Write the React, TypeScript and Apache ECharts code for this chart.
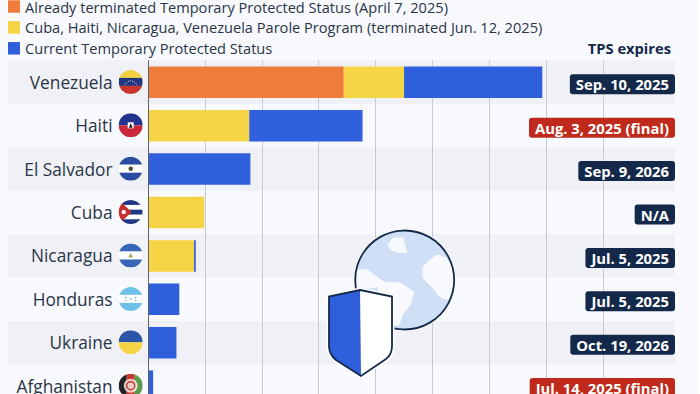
import React, { useEffect, useRef } from "react";
import * as echarts from "echarts";

const categories = ["Venezuela", "Haiti", "El Salvador", "Cuba", "Nicaragua", "Honduras", "Ukraine", "Afghanistan"];
const terminated = [344, 0, 0, 0, 0, 0, 0, 0];
const parole = [106, 178, 0, 99, 81, 0, 0, 0];
const current = [243, 199, 180, 0, 3, 55, 50, 9];
const expiries = ["Sep. 10, 2025", "Aug. 3, 2025 (final)", "Sep. 9, 2026", "N/A", "Jul. 5, 2025", "Jul. 5, 2025", "Oct. 19, 2026", "Jul. 14, 2025 (final)"];
const finalFlags = [false, true, false, false, false, false, false, true];
const stripedRows = [0, 2, 4, 6];
const legendNames = [
  "Already terminated Temporary Protected Status (April 7, 2025)",
  "Cuba, Haiti, Nicaragua, Venezuela Parole Program (terminated Jun. 12, 2025)",
  "Current Temporary Protected Status",
];

const ORANGE = "#ee7c3a";
const YELLOW = "#f5d546";
const BLUE = "#2f5fdb";
const NAVY = "#14294a";
const RED = "#c02a1c";
const TEXT = "#2a3547";
const FONT = '"Open Sans", sans-serif';

function flagSvg(body: string): string {
  const svg = `<svg xmlns="http://www.w3.org/2000/svg" width="48" height="48" viewBox="0 0 24 24"><defs><clipPath id="c"><circle cx="12" cy="12" r="12"/></clipPath></defs><g clip-path="url(#c)">${body}</g></svg>`;
  return "data:image/svg+xml;charset=utf-8," + encodeURIComponent(svg);
}
const stripes = (a: string, b: string, c: string, h1 = 8, h2 = 8) =>
  `<rect width="24" height="${h1}" fill="${a}"/><rect y="${h1}" width="24" height="${h2}" fill="${b}"/><rect y="${h1 + h2}" width="24" height="${24 - h1 - h2}" fill="${c}"/>`;

const flags = [
  flagSvg(stripes("#f5d03f", "#22357f", "#c8352c") + `<path d="M6 14.5 Q12 7.5 18 14.5" fill="none" stroke="#fff" stroke-width="1" stroke-dasharray="1 1.2"/>`),
  flagSvg(stripes("#22348f", "#22348f", "#c9283a", 12, 0) + `<rect x="9" y="9" width="6" height="6" fill="#fff"/><path d="M10 14.5 L12 10 L14 14.5Z" fill="#222"/>`),
  flagSvg(stripes("#2b4ea3", "#ffffff", "#2b4ea3") + `<circle cx="12" cy="12" r="2.2" fill="#4a4a2a"/>`),
  flagSvg(
    `<rect width="24" height="24" fill="#fff"/><rect width="24" height="4.8" fill="#1f3585"/><rect y="9.6" width="24" height="4.8" fill="#1f3585"/><rect y="19.2" width="24" height="4.8" fill="#1f3585"/><path d="M0 0 L13 12 L0 24Z" fill="#c62f2c"/><circle cx="5" cy="12" r="2.2" fill="#fff"/>`
  ),
  flagSvg(stripes("#3766b8", "#ffffff", "#3766b8") + `<path d="M12 9.5 L14.5 14 L9.5 14Z" fill="#a8a860"/>`),
  flagSvg(stripes("#6fc0e8", "#ffffff", "#6fc0e8") + `<circle cx="12" cy="12" r="0.9" fill="#6fc0e8"/><circle cx="7" cy="10.5" r="0.8" fill="#6fc0e8"/><circle cx="17" cy="10.5" r="0.8" fill="#6fc0e8"/><circle cx="7" cy="13.5" r="0.8" fill="#6fc0e8"/><circle cx="17" cy="13.5" r="0.8" fill="#6fc0e8"/>`),
  flagSvg(`<rect width="24" height="12" fill="#2c55a8"/><rect y="12" width="24" height="12" fill="#f5d546"/>`),
  flagSvg(
    `<rect width="8" height="24" fill="#222"/><rect x="8" width="8" height="24" fill="#c53a2f"/><rect x="16" width="8" height="24" fill="#5a9a48"/><circle cx="12" cy="12" r="7" fill="#fff" opacity="0.75"/><circle cx="12" cy="12" r="4" fill="none" stroke="#c53a2f" stroke-width="1.5"/>`
  ),
];

echarts.graphic.registerShape(
  "globeLand",
  echarts.graphic.extendPath(
    "M388 245 L393 238 L403 238 L405 246 L407 253 L398 252 L391 250Z" +
      "M357 270 L368 270 L378 278 L384 282 L380 286 L370 288 L357 288Z" +
      "M378 283 L387 282 L400 283 L414 292 L410 305 L402 315 L399 325 L395 325 L392 305 L378 292Z" +
      "M423 267 L430 260 L437 255 L446 258 L452 268 L453 285 L448 300 L440 297 L432 287 L423 278Z",
    {}
  ) as any
);
echarts.graphic.registerShape(
  "shieldFull",
  echarts.graphic.extendPath(
    "M360 290 L392 296.5 L392 346 C392 352 390 356 386 359 L361 376 L336 360 C331 356 329 352 329 346 L329 296.5Z",
    {}
  ) as any
);
echarts.graphic.registerShape(
  "shieldLeft",
  echarts.graphic.extendPath(
    "M360 290 L361 376 L336 360 C331 356 329 352 329 346 L329 296.5Z",
    {}
  ) as any
);

export default function App() {
  const ref = useRef<HTMLDivElement>(null);
  useEffect(() => {
    document.body.style.margin = "0";
    const chart = echarts.init(ref.current!, null, { renderer: "svg" });
    const barSeries = (name: string, data: number[], color: string) => ({
      name,
      type: "bar",
      stack: "total",
      data,
      barWidth: 31.5,
      z: 2,
      itemStyle: { color },
    });
    chart.setOption({
      animation: false,
      backgroundColor: "transparent",
      textStyle: { fontFamily: FONT },
      grid: { left: 148, top: 60.6, width: 455.2, height: 347.2, outerBoundsMode: "none" },
      legend: {
        left: 8,
        top: -3.5,
        padding: 0,
        orient: "vertical",
        itemWidth: 12,
        itemHeight: 12.5,
        itemGap: 0.9,
        icon: "rect",
        selectedMode: false,
        data: legendNames,
        textStyle: { fontFamily: FONT, fontSize: 14.6, color: TEXT, lineHeight: 20 },
      },
      xAxis: {
        type: "value",
        min: 0,
        max: 800,
        interval: 100,
        z: 1,
        axisLabel: { show: false },
        axisLine: { show: false },
        axisTick: { show: false },
        splitLine: { show: true, lineStyle: { color: "#c6cad3", width: 1 } },
      },
      yAxis: {
        type: "category",
        inverse: true,
        data: categories,
        z: 3,
        axisLine: { show: true, lineStyle: { color: "#5c6470", width: 1 } },
        axisTick: { show: false },
        splitLine: { show: false },
        axisLabel: { margin: 35.5, fontFamily: FONT, fontSize: 17.3, color: TEXT },
      },
      series: [
        {
          type: "custom",
          z: 0,
          silent: true,
          clip: false,
          data: stripedRows.map((r) => [0, r]),
          renderItem: (_p: any, api: any) => {
            const pt = api.coord([0, api.value(1)]);
            const h = api.size([0, 1])[1];
            return { type: "rect", shape: { x: 8, y: pt[1] - h / 2, width: 667, height: h }, style: { fill: "#eff1f6" } };
          },
        },
        barSeries(legendNames[0], terminated, ORANGE),
        barSeries(legendNames[1], parole, YELLOW),
        barSeries(legendNames[2], current, BLUE),
        {
          type: "custom",
          z: 4,
          silent: true,
          clip: false,
          data: categories.map((_c, i) => [0, i]),
          renderItem: (p: any, api: any) => {
            const pt = api.coord([0, api.value(1)]);
            return {
              type: "image",
              style: { image: flags[p.dataIndex], x: pt[0] - 29.3, y: pt[1] - 12.4, width: 24, height: 24 },
            };
          },
        },
        {
          type: "custom",
          z: 5,
          silent: true,
          clip: false,
          data: expiries.map((_e, i) => [800, i]),
          renderItem: (p: any, api: any) => {
            const pt = api.coord([api.value(0), api.value(1)]);
            return {
              type: "text",
              style: {
                text: expiries[p.dataIndex],
                x: pt[0] + 71.8,
                y: pt[1] + 2,
                align: "right",
                verticalAlign: "middle",
                fill: "#ffffff",
                font: `700 14.8px ${FONT}`,
                backgroundColor: finalFlags[p.dataIndex] ? RED : NAVY,
                borderRadius: 3,
                padding: [2, 6, 3, 6],
              },
            };
          },
        },
      ],
      graphic: [
        {
          type: "text",
          z: 10,
          style: { text: "TPS expires", x: 671, y: 48, align: "right", verticalAlign: "middle", fill: NAVY, font: `700 14.7px ${FONT}` },
        },
        { type: "circle", z: 10, shape: { cx: 404.7, cy: 280, r: 51.5 }, style: { fill: "rgba(255,255,255,0.75)" } },
        { type: "circle", z: 10, shape: { cx: 404.7, cy: 280, r: 49.5 }, style: { fill: "#cfdff5" } },
        { type: "globeLand", z: 11, x: 0, y: 0, style: { fill: "#f7f9fd", stroke: "#f7f9fd", lineWidth: 1, lineJoin: "round" } },
        { type: "circle", z: 12, shape: { cx: 404.7, cy: 280, r: 49.5 }, style: { fill: "none", stroke: NAVY, lineWidth: 1.8 } },
        { type: "shieldFull", z: 13, x: 0, y: 0, style: { fill: "#ffffff", stroke: "#ffffff", lineWidth: 5 } },
        { type: "shieldFull", z: 14, x: 0, y: 0, style: { fill: "#ffffff" } },
        { type: "shieldLeft", z: 15, x: 0, y: 0, style: { fill: BLUE } },
        { type: "shieldFull", z: 16, x: 0, y: 0, style: { fill: "none", stroke: NAVY, lineWidth: 1.8 } },
      ],
    });
    return () => chart.dispose();
  }, []);
  return (
    <div style={{ position: "absolute", left: 0, top: 0, width: 700, height: 394, overflow: "hidden", background: "#ffffff" }}>
      <div style={{ position: "absolute", left: 0, top: 0, width: 697, height: 394, background: "#f7f9fd" }} />
      <div ref={ref} style={{ position: "absolute", left: 0, top: 0, width: 700, height: 394 }} />
    </div>
  );
}
